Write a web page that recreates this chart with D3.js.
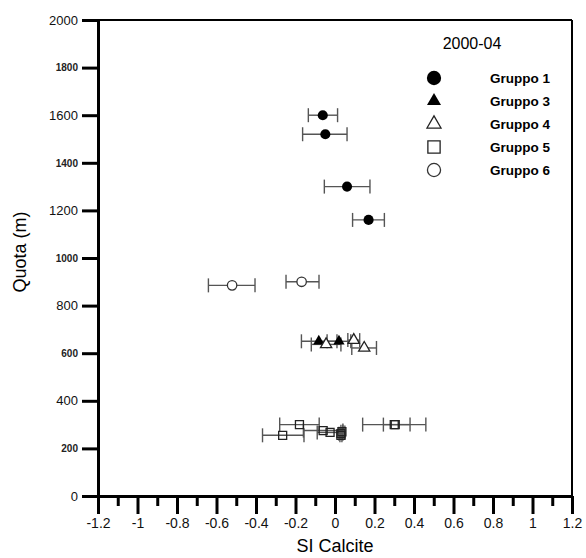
<!DOCTYPE html>
<html>
<head>
<meta charset="utf-8">
<script src="https://cdn.jsdelivr.net/npm/d3@7"></script>
<style>
  body { margin: 0; background: #fff; }
  svg { display: block; font-family: "Liberation Sans", Arial, sans-serif; }
</style>
</head>
<body>
<svg id="chart" width="586" height="558"></svg>
<script>
// Saturation index of calcite vs. elevation, campaign 2000-04.
// Each row: [SI, quota (m), error-bar low, error-bar high]
const gruppo1 = [
  [-0.062, 1600, -0.135, 0.013],
  [-0.049, 1520, -0.164, 0.061],
  [0.061, 1300, -0.054, 0.177],
  [0.170, 1160, 0.089, 0.250]
];
const gruppo3 = [
  [-0.082, 650, -0.170, 0.010],
  [0.020, 650, -0.040, 0.080]
];
const gruppo4 = [
  [-0.045, 637, -0.120, 0.030],
  [0.095, 655, 0.065, 0.125],
  [0.148, 622, 0.085, 0.210]
];
const gruppo5 = [
  [-0.180, 300, -0.280, -0.080],
  [-0.265, 255, -0.367, -0.157],
  [-0.060, 275, -0.160, 0.040],
  [-0.025, 267, -0.090, 0.050],
  [0.030, 262, 0.020, 0.040],
  [0.035, 270, 0.030, 0.040],
  [0.030, 255, 0.025, 0.035],
  [0.300, 300, 0.140, 0.460],
  [0.305, 300, 0.245, 0.380]
];
const gruppo6 = [
  [-0.521, 885, -0.641, -0.405],
  [-0.169, 900, -0.248, -0.081]
];

const xTickValues = [-1.2, -1, -0.8, -0.6, -0.4, -0.2, 0, 0.2, 0.4, 0.6, 0.8, 1, 1.2];
const xMinorTicks = [-1.1, -0.9, -0.7, -0.5, -0.3, -0.1, 0.1, 0.3, 0.5, 0.7, 0.9, 1.1];
const yMajorTicks = [0, 400, 800, 1200, 1600, 2000];
const yMinorTicks = [200, 600, 1000, 1400, 1800];

const legendLabels = ["Gruppo 1", "Gruppo 3", "Gruppo 4", "Gruppo 5", "Gruppo 6"];
const campaign = "2000-04";

const svg = d3.select("#chart");
const plotL = 98, plotR = 572, plotT = 20, plotB = 496;

const x = d3.scaleLinear().domain([-1.2, 1.2]).range([plotL, plotR]);
const y = d3.scaleLinear().domain([0, 2000]).range([plotB, plotT]);

// Frame (top and right)
svg.append("line").attr("x1", plotL).attr("x2", plotR).attr("y1", plotT).attr("y2", plotT)
  .attr("stroke", "#000").attr("stroke-width", 2);
svg.append("line").attr("x1", plotR).attr("x2", plotR).attr("y1", plotT).attr("y2", plotB)
  .attr("stroke", "#000").attr("stroke-width", 2);

const fmtTick = d => (Math.abs(d) < 1e-9 ? "0" : String(+d.toFixed(1)));

// X axis
const xAxis = svg.append("g").attr("transform", `translate(0,${plotB})`)
  .call(d3.axisBottom(x).tickValues(xTickValues).tickSize(18).tickSizeOuter(0).tickFormat(fmtTick));
xAxis.select(".domain").attr("stroke-width", 3);
xAxis.selectAll(".tick line").attr("stroke-width", 3);
xAxis.selectAll(".tick text").attr("font-size", 14).attr("dy", 0).attr("y", 32)
  .attr("fill", "#111").attr("font-family", "Liberation Sans, Arial, sans-serif");
const xMinor = svg.append("g").attr("transform", `translate(0,${plotB})`)
  .call(d3.axisBottom(x).tickValues(xMinorTicks).tickSize(10).tickFormat(""));
xMinor.select(".domain").remove();
xMinor.selectAll(".tick line").attr("stroke-width", 3);

// Y axis
const yAxis = svg.append("g").attr("transform", `translate(${plotL},0)`)
  .call(d3.axisLeft(y).tickValues(yMajorTicks).tickSize(16).tickSizeOuter(0).tickFormat(d3.format("d")));
yAxis.select(".domain").attr("stroke-width", 3);
yAxis.selectAll(".tick line").attr("stroke-width", 3);
yAxis.selectAll(".tick text").attr("font-size", 13).attr("x", -20)
  .attr("fill", "#111").attr("font-family", "Liberation Sans, Arial, sans-serif");
const yMinor = svg.append("g").attr("transform", `translate(${plotL},0)`)
  .call(d3.axisLeft(y).tickValues(yMinorTicks).tickSize(16).tickFormat(d3.format("d")));
yMinor.select(".domain").remove();
yMinor.selectAll(".tick line").attr("stroke-width", 3);
yMinor.selectAll(".tick text").attr("font-size", 10).attr("font-weight", "bold").attr("x", -20)
  .attr("fill", "#222").attr("font-family", "Liberation Sans, Arial, sans-serif");

// Axis titles
svg.append("text").attr("x", (plotL + plotR) / 2).attr("y", 552).attr("text-anchor", "middle")
  .attr("font-size", 18).text("SI Calcite");
svg.append("text").attr("transform", `translate(26,252) rotate(-90)`).attr("text-anchor", "middle")
  .attr("font-size", 18).text("Quota (m)");

// Error bars
const groups = [gruppo1, gruppo3, gruppo4, gruppo5, gruppo6];
const allRows = groups.flat();
const capH = 7;
const eb = svg.append("g").attr("stroke", "#555").attr("stroke-width", 1.4).attr("fill", "none");
allRows.forEach(r => {
  const yy = y(r[1]);
  eb.append("line").attr("x1", x(r[2])).attr("x2", x(r[3])).attr("y1", yy).attr("y2", yy);
  eb.append("line").attr("x1", x(r[2])).attr("x2", x(r[2])).attr("y1", yy - capH).attr("y2", yy + capH);
  eb.append("line").attr("x1", x(r[3])).attr("x2", x(r[3])).attr("y1", yy - capH).attr("y2", yy + capH);
});

// Marker shapes
const styles = [
  { type: d3.symbolCircle, size: 80, fill: "#000", stroke: "none" },
  { type: d3.symbolTriangle, size: 55, fill: "#000", stroke: "none" },
  { type: d3.symbolTriangle, size: 55, fill: "#fff", stroke: "#222" },
  { type: d3.symbolSquare, size: 64, fill: "none", stroke: "#222" },
  { type: d3.symbolCircle, size: 70, fill: "#fff", stroke: "#333" }
];

groups.forEach((g, i) => {
  const s = styles[i];
  svg.append("g").selectAll("path").data(g).join("path")
    .attr("d", d3.symbol().type(s.type).size(s.size))
    .attr("transform", d => `translate(${x(d[0])},${y(d[1])})`)
    .attr("fill", s.fill).attr("stroke", s.stroke).attr("stroke-width", 1.3);
});

// Legend
const lg = svg.append("g");
lg.append("text").attr("x", 472).attr("y", 49).attr("text-anchor", "middle")
  .attr("font-size", 16).text(campaign);
const legendSizes = [160, 85, 85, 150, 135];
legendLabels.forEach((lab, i) => {
  const s = styles[i];
  const cy = 78 + i * 23;
  lg.append("path").attr("d", d3.symbol().type(s.type).size(legendSizes[i]))
    .attr("transform", `translate(434,${cy})`)
    .attr("fill", s.fill).attr("stroke", s.stroke).attr("stroke-width", 1.3);
  lg.append("text").attr("x", 490).attr("y", cy + 5).attr("font-size", 13.5).attr("font-weight", "bold")
    .text(lab);
});
</script>
</body>
</html>
